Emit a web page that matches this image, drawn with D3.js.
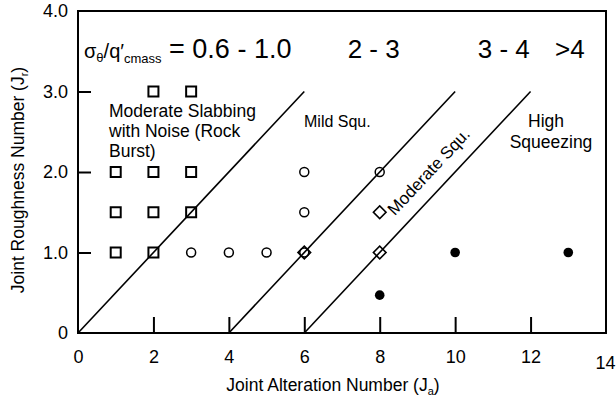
<!DOCTYPE html>
<html>
<head>
<meta charset="utf-8">
<script src="https://cdn.jsdelivr.net/npm/d3@7"></script>
<style>
  html, body { margin: 0; padding: 0; background: #fff; }
  svg { display: block; font-family: "Liberation Sans", Arial, Helvetica, sans-serif; }
</style>
</head>
<body>
<svg id="chart" width="616" height="402"></svg>
<script>
// Squeezing classification by joint alteration (Ja) and joint roughness (Jr)
const xTicks = [0, 2, 4, 6, 8, 10, 12, 14];
const yTicks = [0, 1, 2, 3, 4];

// Case records, grouped by observed behaviour
const slabbingPts = [[1, 1], [2, 1], [1, 1.5], [2, 1.5], [3, 1.5], [1, 2], [2, 2], [3, 2], [2, 3], [3, 3]];
const mildPts = [[3, 1], [4, 1], [5, 1], [6, 1], [6, 1.5], [6, 2], [8, 2]];
const moderatePts = [[6, 1], [8, 1], [8, 1.5]];
const highPts = [[8, 0.47], [10, 1], [13, 1]];

// Class boundaries (Jr/Ja = 0.5 offsets), as [Ja, Jr] end points
const boundaries = [
  [[0, 0], [6, 3]],
  [[4, 0], [10, 3]],
  [[6, 0], [12, 3]]
];

const ratioLabels = [
  { text: "2 - 3", ja: 7.15 },
  { text: "3 - 4", ja: 10.6 },
  { text: ">4", ja: 12.65 }
];

const svg = d3.select("#chart");
const plotL = 78, plotR = 606, plotT = 11, plotB = 333;
const FONT = "Liberation Sans, Arial, sans-serif";

const x = d3.scaleLinear().domain([0, 14]).range([plotL, plotR]);
const y = d3.scaleLinear().domain([0, 4]).range([plotB, plotT]);

// X axis with inward ticks
const xAxis = svg.append("g")
  .attr("transform", `translate(0,${plotB})`)
  .call(d3.axisBottom(x).tickValues(xTicks).tickSizeInner(-16).tickSizeOuter(0).tickPadding(17).tickFormat(d3.format("d")));
xAxis.select(".domain").remove();
xAxis.selectAll(".tick line").attr("stroke", "#000").attr("stroke-width", 2)
  .filter(d => d === 0 || d === 14).remove();
xAxis.selectAll(".tick text").attr("font-size", 18).attr("fill", "#000").attr("font-family", FONT);
xAxis.selectAll(".tick text").filter(d => d === 14).attr("dx", -1).attr("dy", "1.05em");

// Y axis with inward ticks
const yAxis = svg.append("g")
  .attr("transform", `translate(${plotL},0)`)
  .call(d3.axisLeft(y).tickValues(yTicks).tickSizeInner(-13).tickSizeOuter(0).tickPadding(10)
    .tickFormat(d => d === 0 ? "0" : d3.format(".1f")(d)));
yAxis.select(".domain").remove();
yAxis.selectAll(".tick line").attr("stroke", "#000").attr("stroke-width", 2)
  .filter(d => d === 0 || d === 4).remove();
yAxis.selectAll(".tick text").attr("font-size", 18).attr("fill", "#000").attr("font-family", FONT);

// Plot frame
svg.append("rect")
  .attr("x", plotL).attr("y", plotT)
  .attr("width", plotR - plotL).attr("height", plotB - plotT)
  .attr("fill", "none").attr("stroke", "#000").attr("stroke-width", 2);

// Boundary lines
svg.append("g").selectAll("line").data(boundaries).join("line")
  .attr("x1", d => x(d[0][0])).attr("y1", d => y(d[0][1]))
  .attr("x2", d => x(d[1][0])).attr("y2", d => y(d[1][1]))
  .attr("stroke", "#000").attr("stroke-width", 1.6);

// Markers
const g = svg.append("g");
g.selectAll(".sq").data(slabbingPts).join("rect")
  .attr("x", d => x(d[0]) - 5).attr("y", d => y(d[1]) - 5)
  .attr("width", 10).attr("height", 10)
  .attr("fill", "none").attr("stroke", "#000").attr("stroke-width", 2);

g.selectAll(".ci").data(mildPts).join("circle")
  .attr("cx", d => x(d[0])).attr("cy", d => y(d[1])).attr("r", 4.5)
  .attr("fill", "none").attr("stroke", "#000").attr("stroke-width", 1.5);

const diamond = d3.symbol().type(d3.symbolSquare).size(80);
g.selectAll(".di").data(moderatePts).join("path")
  .attr("d", diamond)
  .attr("transform", d => `translate(${x(d[0])},${y(d[1])}) rotate(45)`)
  .attr("fill", "none").attr("stroke", "#000").attr("stroke-width", 1.6);

g.selectAll(".fc").data(highPts).join("circle")
  .attr("cx", d => x(d[0])).attr("cy", d => y(d[1])).attr("r", 4.8)
  .attr("fill", "#000");

// Stress ratio header
const hdr = svg.append("text").attr("x", 84).attr("y", 58).attr("fill", "#000");
hdr.append("tspan").attr("font-size", 20).text("σ");
hdr.append("tspan").attr("font-size", 13).attr("dy", 4).text("θ");
hdr.append("tspan").attr("font-size", 20).attr("dy", -4).text("/q′");
hdr.append("tspan").attr("font-size", 13).attr("dy", 5).text("cmass");
hdr.append("tspan").attr("font-size", 27).attr("dy", -5).text(" = 0.6 - 1.0");

svg.append("g").selectAll("text").data(ratioLabels).join("text")
  .attr("x", d => x(d.ja)).attr("y", 58)
  .attr("font-size", 26).attr("fill", "#000").text(d => d.text);

// Zone labels
const zone = svg.append("g").attr("fill", "#000").attr("font-size", 17.5);
zone.append("text").attr("x", 109).attr("y", 117).text("Moderate Slabbing");
zone.append("text").attr("x", 109).attr("y", 137).text("with Noise (Rock");
zone.append("text").attr("x", 109).attr("y", 157).text("Burst)");
zone.append("text").attr("x", 304).attr("y", 127).attr("font-size", 16).text("Mild Squ.");
zone.append("text").attr("x", 546).attr("y", 127).attr("text-anchor", "middle").text("High");
zone.append("text").attr("x", 551).attr("y", 148).attr("text-anchor", "middle").text("Squeezing");
const ang = -Math.atan((y(0) - y(0.5)) / (x(1) - x(0))) * 180 / Math.PI;
zone.append("text")
  .attr("transform", `translate(${x(8.4)},${y(1.45)}) rotate(${ang})`)
  .attr("font-size", 17).text("Moderate Squ.");

// Axis titles
svg.append("text").attr("x", 333).attr("y", 391).attr("text-anchor", "middle")
  .attr("font-size", 17.5).attr("fill", "#000")
  .call(t => {
    t.append("tspan").text("Joint Alteration Number (J");
    t.append("tspan").attr("font-size", 11).attr("dy", 4).text("a");
    t.append("tspan").attr("dy", -4).text(")");
  });

svg.append("text").attr("transform", "translate(24,180) rotate(-90)").attr("text-anchor", "middle")
  .attr("font-size", 17.5).attr("fill", "#000")
  .call(t => {
    t.append("tspan").text("Joint Roughness Number (J");
    t.append("tspan").attr("font-size", 11).attr("dy", 4).text("r");
    t.append("tspan").attr("dy", -4).text(")");
  });
</script>
</body>
</html>
